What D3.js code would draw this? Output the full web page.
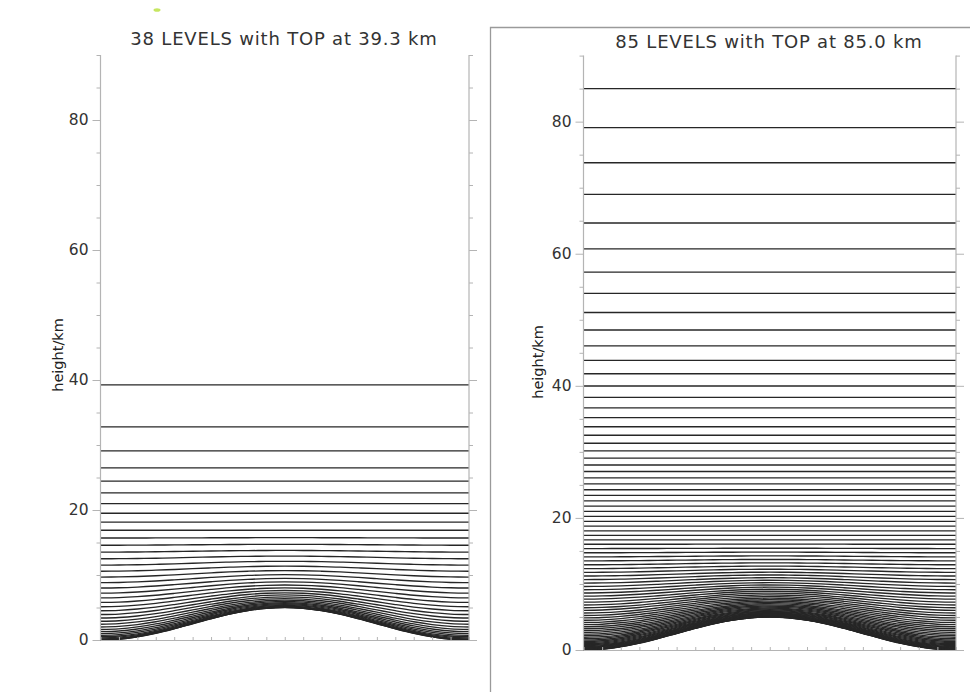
<!DOCTYPE html>
<html><head><meta charset="utf-8">
<script src="https://cdn.jsdelivr.net/npm/d3@7"></script>
<style>body{margin:0;background:#fff}svg{display:block}</style>
</head><body>
<svg id="c" width="970" height="694"></svg>
<script>
// ---- data (km) ----
const titles = ["38 LEVELS with TOP at 39.3 km", "85 LEVELS with TOP at 85.0 km"];
const levels38 = [0.02,0.08,0.18,0.32,0.5,0.72,0.98,1.28,1.62,2.0,2.42,2.88,3.38,3.92,4.5,5.12,5.78,6.48,7.22,8.0,8.82,9.68,10.58,11.52,12.5,13.52,14.58,15.69,16.88,18.14,19.50,20.99,22.63,24.44,26.47,29.1,32.8,39.25];
const levels85 = [0.02,0.0533,0.1,0.16,0.2333,0.32,0.42,0.5333,0.66,0.8,0.9533,1.12,1.3,1.4933,1.7,1.92,2.1533,2.4,2.66,2.9333,3.22,3.52,3.8333,4.16,4.5,4.8533,5.22,5.6,6.0,6.4,6.82,7.2533,7.7,8.16,8.6333,9.12,9.62,10.1334,10.66,11.2002,11.7536,12.3205,12.9009,13.4949,14.1025,14.7239,15.3592,16.0088,16.6729,17.3519,18.0463,18.7567,19.4839,20.2288,20.9925,21.7765,22.5824,23.4122,24.2682,25.1532,26.0706,27.0241,28.0183,29.0582,30.15,31.3005,32.5177,33.8106,35.1895,36.6662,38.254,39.9679,41.8249,43.8438,46.0462,48.4558,51.0993,54.0064,57.21,60.7467,64.657,68.9855,73.7818,79.1,85.0];
// flattening height (km) above which levels are flat
const flatTop = [17.5, 17.0];
// orography (km) sampled at 21 equally spaced points across the domain
const orography = [0,0.12,0.48,1.03,1.73,2.5,3.27,3.97,4.52,4.88,5.0,4.88,4.52,3.97,3.27,2.5,1.73,1.03,0.48,0.12,0];
const yMajorTicks = [0,20,40,60,80];
const yMinorTicks = [5,10,15,25,30,35,45,50,55,65,70,75,85,90];

// ---- layout ----
const panels = [
  {levels: levels38, x0: 100.5, x1: 469, yb: 640, yt: 55, titleX: 284, titleY: 45, labX: 63, labY: 355, flat: flatTop[0], title: titles[0]},
  {levels: levels85, x0: 583.5, x1: 956, yb: 650, yt: 55.6, titleX: 769, titleY: 48, labX: 543, labY: 362, flat: flatTop[1], title: titles[1]}
];
const svg = d3.select("#c");
const axisCol = "#b4b4b4";

// frame of the second window
svg.append("path").attr("d","M490.5,692 V27.5 H970").attr("fill","none").attr("stroke","#9a9a9a").attr("stroke-width",1.3);
svg.append("ellipse").attr("cx",157).attr("cy",10).attr("rx",3.5).attr("ry",1.8).attr("fill","#b8e03a").attr("opacity",0.8);

panels.forEach(p => {
  const g = svg.append("g");
  const x = d3.scaleLinear().domain([0, orography.length-1]).range([p.x0, p.x1]);
  const y = d3.scaleLinear().domain([0, 90]).range([p.yb, p.yt]);
  const ztop = p.levels[p.levels.length-1];
  const etaI = p.flat / ztop;
  const line = d3.line().x(d => d[0]).y(d => d[1]).curve(d3.curveCatmullRom.alpha(0.5));
  const all = [0].concat(p.levels);
  all.forEach(z => {
    const eta = z / ztop;
    const f = eta < etaI ? Math.pow(1 - eta/etaI, 2) : 0;
    const pts = orography.map((h,i) => [x(i), y(z + h*f)]);
    g.append("path").attr("d", line(pts)).attr("fill","none")
      .attr("stroke","#262626").attr("stroke-width",1.35);
  });

  // left axis
  const aL = g.append("g").attr("transform",`translate(${p.x0},0)`)
    .call(d3.axisLeft(y).tickValues(yMajorTicks).tickSize(8).tickSizeOuter(0).tickPadding(4));
  aL.select(".domain").remove();
  aL.selectAll("line").attr("stroke",axisCol);
  aL.selectAll("text").attr("font-family","DejaVu Sans, sans-serif").attr("font-size",15.5).attr("fill","#333");
  const aLm = g.append("g").attr("transform",`translate(${p.x0},0)`)
    .call(d3.axisLeft(y).tickValues(yMinorTicks).tickSize(4).tickSizeOuter(0).tickFormat(""));
  aLm.select(".domain").remove();
  aLm.selectAll("line").attr("stroke",axisCol);
  g.append("line").attr("x1",p.x0).attr("x2",p.x0).attr("y1",p.yt).attr("y2",p.yb).attr("stroke",axisCol).attr("stroke-width",1.2);

  // right axis
  const aR = g.append("g").attr("transform",`translate(${p.x1},0)`)
    .call(d3.axisRight(y).tickValues(yMajorTicks).tickSize(8).tickSizeOuter(0).tickFormat(""));
  aR.select(".domain").remove();
  aR.selectAll("line").attr("stroke",axisCol);
  const aRm = g.append("g").attr("transform",`translate(${p.x1},0)`)
    .call(d3.axisRight(y).tickValues(yMinorTicks).tickSize(4).tickSizeOuter(0).tickFormat(""));
  aRm.select(".domain").remove();
  aRm.selectAll("line").attr("stroke",axisCol);
  g.append("line").attr("x1",p.x1).attr("x2",p.x1).attr("y1",p.yt).attr("y2",p.yb).attr("stroke",axisCol).attr("stroke-width",1.2);

  // bottom axis
  const aB = g.append("g").attr("transform",`translate(0,${p.yb})`)
    .call(d3.axisBottom(x).tickValues(d3.range(0, orography.length)).tickSize(-3).tickSizeOuter(0).tickFormat(""));
  aB.select(".domain").attr("stroke",axisCol);
  aB.selectAll("line").attr("stroke",axisCol);

  // title & y label
  svg.append("text").attr("x",p.titleX).attr("y",p.titleY).attr("text-anchor","middle")
    .attr("font-family","DejaVu Sans, sans-serif").attr("font-size",18).attr("letter-spacing",0.8)
    .attr("fill","#333").text(p.title);
  svg.append("text").attr("transform",`translate(${p.labX},${p.labY}) rotate(-90)`).attr("text-anchor","middle")
    .attr("font-family","DejaVu Sans, sans-serif").attr("font-size",14.5).attr("fill","#222").text("height/km");
});
</script>
</body></html>
